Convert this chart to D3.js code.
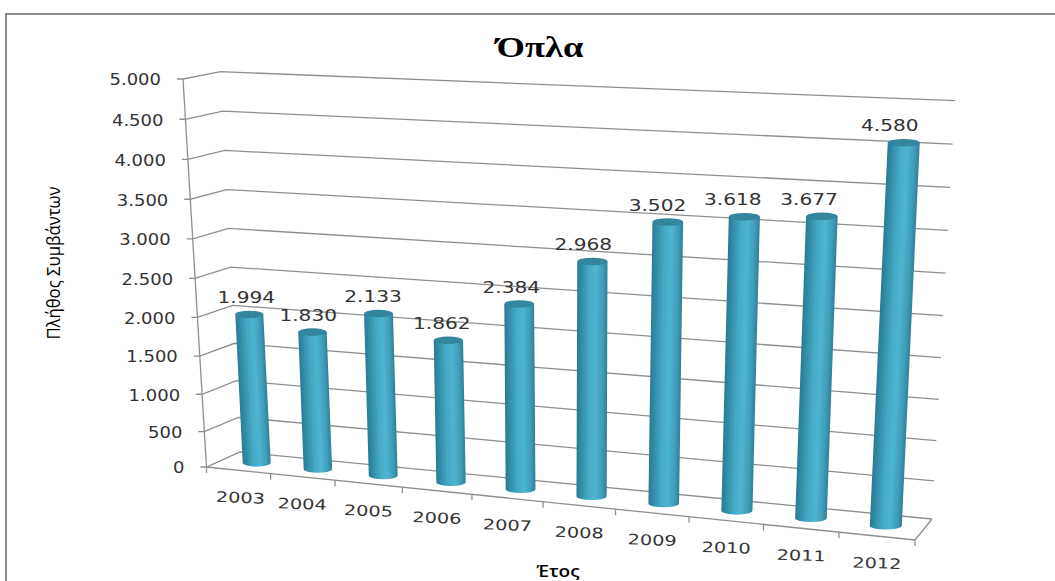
<!DOCTYPE html>
<html>
<head>
<meta charset="utf-8">
<script src="https://cdn.jsdelivr.net/npm/d3@7"></script>
<style>
  html, body { margin: 0; padding: 0; background: #fff; overflow: hidden; }
  text { font-family: "DejaVu Sans", sans-serif; fill: #333; }
</style>
</head>
<body>
<div id="chart"></div>
<script>
const years = ["2003", "2004", "2005", "2006", "2007", "2008", "2009", "2010", "2011", "2012"];
const incidents = [1994, 1830, 2133, 1862, 2384, 2968, 3502, 3618, 3677, 4580];
const yTicks = [0, 500, 1000, 1500, 2000, 2500, 3000, 3500, 4000, 4500, 5000];
const chartTitle = "Όπλα";
const yTitle = "Πλήθος Συμβάντων";
const xTitle = "Έτος";

const width = 1055, height = 581;

const svg = d3.select("#chart").append("svg")
    .attr("width", width)
    .attr("height", height);

// Corners of the 3D box as they land on screen
const floor = { fl: [206.5, 467], fr: [915, 540], bl: [240, 452], br: [932, 519] };
const roof = { fl: [183, 79], fr: [936, 115], bl: [220.7, 71.7], br: [955, 100.7] };

// Scales: values and categories to box fractions (slight perspective)
const heightScale = d3.scalePow().exponent(1.04).domain([0, 5000]).range([0, 1]);
const band = d3.scaleBand().domain(years).range([0, 1]);
const across = d3.scalePow().exponent(1.09).domain([0, 1]).range([0.01, 1]);

const mix = (a, b, t) => [a[0] + (b[0] - a[0]) * t, a[1] + (b[1] - a[1]) * t];

function plane(q, u, d) {
    return mix(mix(q.fl, q.fr, u), mix(q.bl, q.br, u), d);
}

// u across, d depth (0 front, 1 back), t height
function project(u, d, t) {
    return mix(plane(floor, u, d), plane(roof, u, d), t);
}

const fmt = d3.formatLocale({ decimal: ",", thousands: ".", grouping: [3], currency: ["", ""] }).format(",d");

const gridColor = "#8e8e8e";
const line = d3.line();

// Outer frame, only top and left are in the picture
svg.append("path")
    .attr("d", line([[6, height], [6, 14], [width, 14]]))
    .attr("fill", "none")
    .attr("stroke", "#8a8a8a")
    .attr("stroke-width", 2);

// Gridlines: side wall then back wall
const grid = svg.append("g").attr("fill", "none").attr("stroke", gridColor).attr("stroke-width", 1.3);

yTicks.forEach(v => {
    const t = heightScale(v);
    const front = project(0, 0, t);
    grid.append("path").attr("d", line([
        [front[0] - 6, front[1]],
        front,
        project(0, 1, t),
        project(1, 1, t)
    ]));
});

// Value axis and floor edges
grid.append("path").attr("d", line([project(0, 0, 1), project(0, 0, 0)]));
grid.append("path").attr("d", line([project(0, 0, 0), project(1, 0, 0), project(1, 1, 0)]));

// Category ticks, the first one sits on the box corner
const edges = years.map(y => band(y)).concat([1]);
edges.forEach(e => {
    const p = project(e === 0 ? 0 : across(e), 0, 0);
    grid.append("path").attr("d", line([p, [p[0], p[1] + 6]]));
});

// Text squeezed wide, the original is stretched sideways
function label(str, x, y, opts = {}) {
    return svg.append("text")
        .attr("transform", `translate(${x},${y}) rotate(${opts.rot || 0}) scale(${opts.sx || 1.3},1)`)
        .attr("text-anchor", opts.anchor || "middle")
        .attr("dy", "0.36em")
        .style("font-size", (opts.size || 14.5) + "px")
        .text(str);
}

yTicks.forEach(v => {
    const p = project(0, 0, heightScale(v));
    label(fmt(v), p[0] - 22, p[1] + 1, { anchor: "end", size: 15, sx: 1.2 });
});

// Cylinders, they never overlap so order does not matter
const defs = svg.append("defs");
const barDepth = 0.5;
const barHalf = d3.scaleLinear().domain([0, 9]).range([14, 16]);
const labelShift = d3.scaleLinear().domain([0, 9]).range([-3, -14]);

years.forEach((year, i) => {
    const u = across(band(year) + band.bandwidth() / 2);
    const base = project(u, barDepth, 0);
    const top = project(u, barDepth, heightScale(incidents[i]));
    const r = barHalf(i);
    const ry = 3.8;

    const dx = top[0] - base[0], dy = top[1] - base[1];
    const len = Math.hypot(dx, dy);
    const nx = -dy / len, ny = dx / len;

    const grad = defs.append("linearGradient")
        .attr("id", `cyl-${year}`)
        .attr("gradientUnits", "userSpaceOnUse")
        .attr("x1", base[0] - Math.abs(nx) * r)
        .attr("y1", base[1] - Math.sign(nx) * ny * r)
        .attr("x2", base[0] + Math.abs(nx) * r)
        .attr("y2", base[1] + Math.sign(nx) * ny * r);
    [[0, "#2a7a90"], [0.12, "#2f8aa3"], [0.4, "#46a9c6"], [0.62, "#4db5d2"], [0.85, "#3f9db8"], [1, "#2f7f96"]]
        .forEach(s => grad.append("stop").attr("offset", s[0]).attr("stop-color", s[1]));

    svg.append("path")
        .attr("d", `M${base[0] - r},${base[1]} L${top[0] - r},${top[1]} L${top[0] + r},${top[1]} L${base[0] + r},${base[1]} A${r},${ry} 0 0 1 ${base[0] - r},${base[1]} Z`)
        .attr("fill", `url(#cyl-${year})`);

    svg.append("ellipse")
        .attr("cx", top[0])
        .attr("cy", top[1])
        .attr("rx", r)
        .attr("ry", ry)
        .attr("fill", "#33869d");

    label(fmt(incidents[i]), top[0] + labelShift(i), top[1] - 17, { size: 15.5 });

    const f = project(u, 0, 0);
    label(year, f[0], f[1] + 27, { rot: 2, sx: 1.33 });
});

// Titles
svg.append("text")
    .attr("transform", "translate(540,57) scale(1.22,1)")
    .attr("text-anchor", "middle")
    .style("font-family", "'Liberation Serif', serif")
    .style("font-weight", "bold")
    .style("font-size", "30px")
    .style("fill", "#000")
    .text(chartTitle);

svg.append("text")
    .attr("transform", "translate(60,263) rotate(-90) scale(0.88,1)")
    .attr("text-anchor", "middle")
    .style("font-family", "'Open Sans', sans-serif")
    .style("font-size", "19px")
    .style("fill", "#000")
    .text(yTitle);

svg.append("text")
    .attr("transform", "translate(558,577) scale(1.12,1)")
    .attr("text-anchor", "middle")
    .style("font-family", "'Open Sans', sans-serif")
    .style("font-weight", "600")
    .style("font-size", "17px")
    .style("fill", "#000")
    .text(xTitle);
</script>
</body>
</html>
